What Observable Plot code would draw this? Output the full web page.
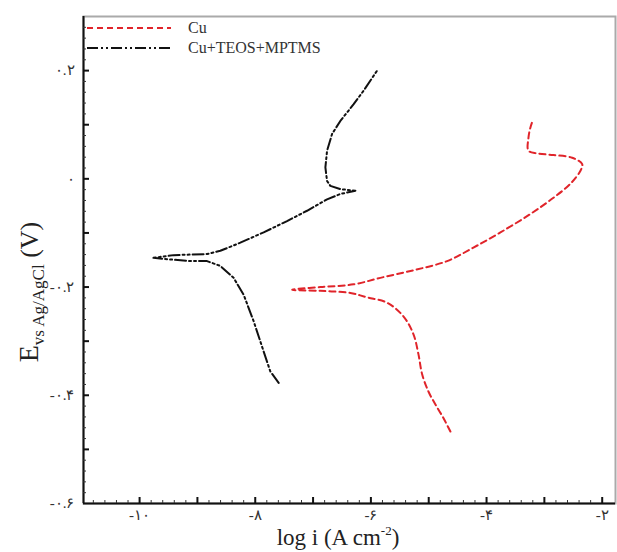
<!DOCTYPE html>
<html><head><meta charset="utf-8">
<script src="https://cdn.jsdelivr.net/npm/d3@7"></script>
<script src="https://cdn.jsdelivr.net/npm/@observablehq/plot@0.6"></script>
<style>body{margin:0;background:#fff} #chart{width:617px;height:552px}</style>
</head><body><div id="chart"></div>
<script>
// Series: Cu (bare) — log i (A cm^-2) vs E (V vs Ag/AgCl)
const cuLogI = [-4.625,-4.746,-4.884,-5.005,-5.114,-5.178,-5.265,-5.438,-5.720,-6.066,-6.355,-6.874,-7.363,-6.874,-6.298,-5.836,-5.265,-4.682,-4.227,-3.760,-3.241,-2.843,-2.549,-2.376,-2.346,-2.519,-2.843,-3.125,-3.275,-3.275,-3.241,-3.194];
const cuE    = [-0.467,-0.442,-0.417,-0.393,-0.361,-0.324,-0.287,-0.254,-0.229,-0.219,-0.211,-0.207,-0.205,-0.200,-0.195,-0.183,-0.169,-0.152,-0.127,-0.099,-0.065,-0.035,-0.009,0.015,0.027,0.039,0.044,0.047,0.052,0.076,0.095,0.110];
// Series: Cu+TEOS+MPTMS
const coatLogI = [-7.595,-7.739,-7.855,-8.028,-8.201,-8.374,-8.604,-8.834,-9.123,-9.469,-9.760,-9.412,-8.834,-8.604,-8.258,-7.855,-7.450,-7.104,-6.758,-6.528,-6.268,-6.528,-6.701,-6.758,-6.787,-6.758,-6.671,-6.528,-6.298,-6.125,-5.893];
const coatE    = [-0.377,-0.356,-0.319,-0.263,-0.214,-0.183,-0.161,-0.152,-0.152,-0.149,-0.146,-0.141,-0.139,-0.133,-0.118,-0.099,-0.078,-0.059,-0.038,-0.028,-0.022,-0.019,-0.013,-0.004,0.021,0.052,0.083,0.107,0.138,0.163,0.200];
const seriesNames = ["Cu", "Cu+TEOS+MPTMS"];
const xTickValues = [-10, -8, -6, -4, -2];
const yTickValues = [0.2, 0, -0.2, -0.4, -0.6];
const xDomain = [-10.97, -1.77];
const yDomain = [-0.6, 0.3];

const faDigits = "۰۱۲۳۴۵۶۷۸۹";
const fa = s => s.replace(/[0-9]/g, d => faDigits[+d]);
const fmtX = d => (d < 0 ? "-" : "") + fa(String(Math.abs(d)));
const fmtY = d => d === 0 ? "۰" : (d < 0 ? "-" : "") + fa(Math.abs(d).toFixed(1));

const cu = cuLogI.map((x, i) => ({x, y: cuE[i]}));
const coat = coatLogI.map((x, i) => ({x, y: coatE[i]}));

const W = 617, H = 552, mL = 83, mR = 2, mT = 16, mB = 49;
const iw = W - mL - mR, ih = H - mT - mB;
const xMajor = d3.range(-10, -1.9, 1);
const xMinor = d3.range(-10.8, -1.8, 0.2).filter(v => Math.abs(v - Math.round(v)) > 0.01);
const yMajor = d3.range(-0.5, 0.25, 0.1);
const yMinor = d3.range(-0.58, 0.3, 0.02).filter(v => Math.abs(v * 10 - Math.round(v * 10)) > 0.01);

const font = "'Liberation Serif', 'DejaVu Serif', serif";
const plot = Plot.plot({
  width: W, height: H, marginLeft: mL, marginRight: mR, marginTop: mT, marginBottom: mB,
  style: {fontFamily: font, background: "#fff"},
  x: {domain: xDomain},
  y: {domain: yDomain},
  marks: [
    Plot.frame({stroke: "#aaa", strokeWidth: 2}),
    Plot.ruleX([xDomain[0]], {stroke: "#111", strokeWidth: 2}),
    Plot.ruleY([yDomain[0]], {stroke: "#111", strokeWidth: 2}),
    Plot.tickX(xMajor, {x: d => d, insetTop: ih - 6, stroke: "#111", strokeWidth: 2}),
    Plot.tickX(xMinor, {x: d => d, insetTop: ih - 3, stroke: "#333", strokeWidth: 1}),
    Plot.tickY(yMajor, {y: d => d, insetRight: iw - 6, stroke: "#111", strokeWidth: 2}),
    Plot.tickY(yMinor, {y: d => d, insetRight: iw - 3, stroke: "#333", strokeWidth: 1}),
    Plot.axisX({ticks: xTickValues, tickSize: 0, tickPadding: 6, tickFormat: fmtX, fontSize: 15, fill: "#333", label: null}),
    Plot.axisY({ticks: yTickValues, tickSize: 0, tickPadding: 9, tickFormat: fmtY, fontSize: 15, fill: "#333", label: null}),
    Plot.line(cu, {x: "x", y: "y", stroke: "#e0242a", strokeWidth: 2, strokeDasharray: "6,4", curve: "catmull-rom"}),
    Plot.line(coat, {x: "x", y: "y", stroke: "#111", strokeWidth: 2, strokeDasharray: "11,3,2,3,2,3", curve: "linear"})
  ]
});
document.getElementById("chart").appendChild(plot);

const svg = d3.select(plot);
// legend
const leg = [
  {name: seriesNames[0], stroke: "#e0242a", dash: "6,4", y: 28},
  {name: seriesNames[1], stroke: "#111", dash: "11,3,2,3,2,3", y: 48}
];
leg.forEach(l => {
  svg.append("line").attr("x1", 87).attr("x2", 171).attr("y1", l.y).attr("y2", l.y)
    .attr("stroke", l.stroke).attr("stroke-width", 2).attr("stroke-dasharray", l.dash);
  svg.append("text").attr("x", 188).attr("y", l.y + 5).attr("text-anchor", "start").attr("font-family", font)
    .attr("font-size", 16).attr("fill", "#333").text(l.name);
});
// x title
const xt = svg.append("text").attr("x", 338).attr("y", 545).attr("text-anchor", "middle")
  .attr("font-family", font).attr("font-size", 23).attr("fill", "#222");
xt.append("tspan").text("log i (A cm");
xt.append("tspan").attr("font-size", 13).attr("dy", -10).text("-2");
xt.append("tspan").attr("dy", 10).text(")");
// y title
const yt = svg.append("text").attr("transform", "translate(38,292) rotate(-90)").attr("text-anchor", "middle")
  .attr("font-family", font).attr("font-size", 28).attr("fill", "#222");
yt.append("tspan").text("E");
yt.append("tspan").attr("font-size", 17).attr("dy", 6).text("vs Ag/AgCl");
yt.append("tspan").attr("font-size", 26).attr("dy", -6).text(" (V)");
</script>
</body></html>
